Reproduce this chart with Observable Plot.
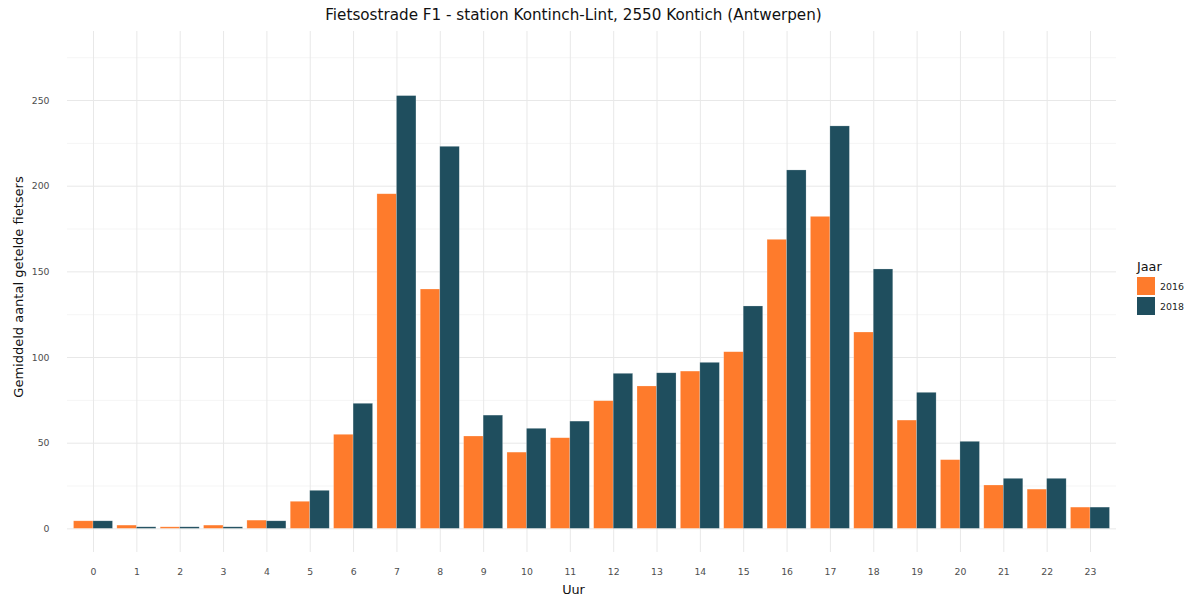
<!DOCTYPE html>
<html>
<head>
<meta charset="utf-8">
<script src="https://cdn.jsdelivr.net/npm/d3@7"></script>
<script src="https://cdn.jsdelivr.net/npm/@observablehq/plot@0.6"></script>
<style>
  html, body { margin: 0; padding: 0; background: #fff; }
  #wrap { position: relative; width: 1192px; height: 601px; font-family: "DejaVu Sans", sans-serif; }
  #wrap svg { position: absolute; left: 0; top: 0; }
  .title { position: absolute; top: 6px; left: 0; width: 1147px; text-align: center; font-size: 15.2px; color: #111; }
  .xlab { position: absolute; top: 582px; left: 0; width: 1147px; text-align: center; font-size: 12.8px; color: #111; }
  .ylab { position: absolute; left: 18px; top: 287px; transform: translate(-50%, -50%) rotate(-90deg); white-space: nowrap; font-size: 13px; color: #111; }
  .legend { position: absolute; left: 1137px; top: 259px; font-size: 9.4px; color: #222; }
  .legend .lt { font-size: 12.8px; color: #111; margin-bottom: 2px; }
  .legend .row { display: flex; align-items: center; height: 20px; }
  .legend .sw { width: 18px; height: 18px; margin-right: 5px; }
</style>
</head>
<body>
<div id="wrap">
  <div class="title">Fietsostrade F1 - station Kontinch-Lint, 2550 Kontich (Antwerpen)</div>
  <div class="ylab">Gemiddeld aantal getelde fietsers</div>
  <div class="xlab">Uur</div>
  <div class="legend" id="legend"></div>
</div>
<script>
const hours = [0,1,2,3,4,5,6,7,8,9,10,11,12,13,14,15,16,17,18,19,20,21,22,23];
const years = ["2016", "2018"];
const v2016 = [4.4,1.9,0.9,1.9,4.8,15.8,54.9,195.3,139.7,53.9,44.5,52.9,74.5,83.1,91.8,103.1,168.7,182.1,114.6,63.2,40.1,25.3,22.9,12.4];
const v2018 = [4.4,0.9,0.9,0.9,4.4,22.2,73.0,252.6,223.0,66.1,58.4,62.6,90.5,90.8,96.9,129.8,209.2,234.9,151.4,79.4,50.8,29.2,29.2,12.4];
const colors = ["#fe7b2c", "#1f4e5e"];
const yTicks = [0,50,100,150,200,250];
const yMinor = [25,75,125,175,225,275];

const rows = [];
hours.forEach((h, i) => {
  rows.push({hour: h, year: years[0], value: v2016[i]});
  rows.push({hour: h, year: years[1], value: v2018[i]});
});
const half = 0.45;

const chart = Plot.plot({
  width: 1192,
  height: 601,
  marginTop: 31,
  marginBottom: 49,
  marginLeft: 67,
  marginRight: 76,
  style: {fontFamily: "DejaVu Sans, sans-serif", background: "transparent"},
  x: {domain: [-0.6, 23.6], ticks: hours, tickFormat: d => String(d), tickSize: 0, tickPadding: 16, label: null},
  y: {domain: [-13.8, 290.3], ticks: yTicks, tickSize: 0, tickPadding: 18, label: null},
  color: {domain: years, range: colors},
  marks: [
    Plot.ruleY(yMinor, {stroke: "#f5f5f5", strokeWidth: 1}),
    Plot.ruleY(yTicks, {stroke: "#e8e8e8", strokeWidth: 1}),
    Plot.ruleX(hours, {stroke: "#e8e8e8", strokeWidth: 1}),
    Plot.rectY(rows, {
      x1: d => d.year === years[0] ? d.hour - half : d.hour,
      x2: d => d.year === years[0] ? d.hour : d.hour + half,
      y1: 0,
      y2: "value",
      fill: "year",
      stroke: "#ffffff",
      strokeOpacity: 0.35,
      strokeWidth: 0.6
    }),
    Plot.axisX({ticks: hours, tickSize: 0, tickPadding: 16, fontSize: 9.3, color: "#4d4d4d", label: null}),
    Plot.axisY({ticks: yTicks, tickSize: 0, tickPadding: 18, fontSize: 9.3, color: "#4d4d4d", label: null})
  ]
});
document.getElementById("wrap").prepend(chart);

const lg = document.getElementById("legend");
const lt = document.createElement("div");
lt.className = "lt";
lt.textContent = "Jaar";
lg.appendChild(lt);
years.forEach((y, i) => {
  const r = document.createElement("div");
  r.className = "row";
  const s = document.createElement("div");
  s.className = "sw";
  s.style.background = colors[i];
  const t = document.createElement("span");
  t.textContent = y;
  r.appendChild(s);
  r.appendChild(t);
  lg.appendChild(r);
});
</script>
</body>
</html>
